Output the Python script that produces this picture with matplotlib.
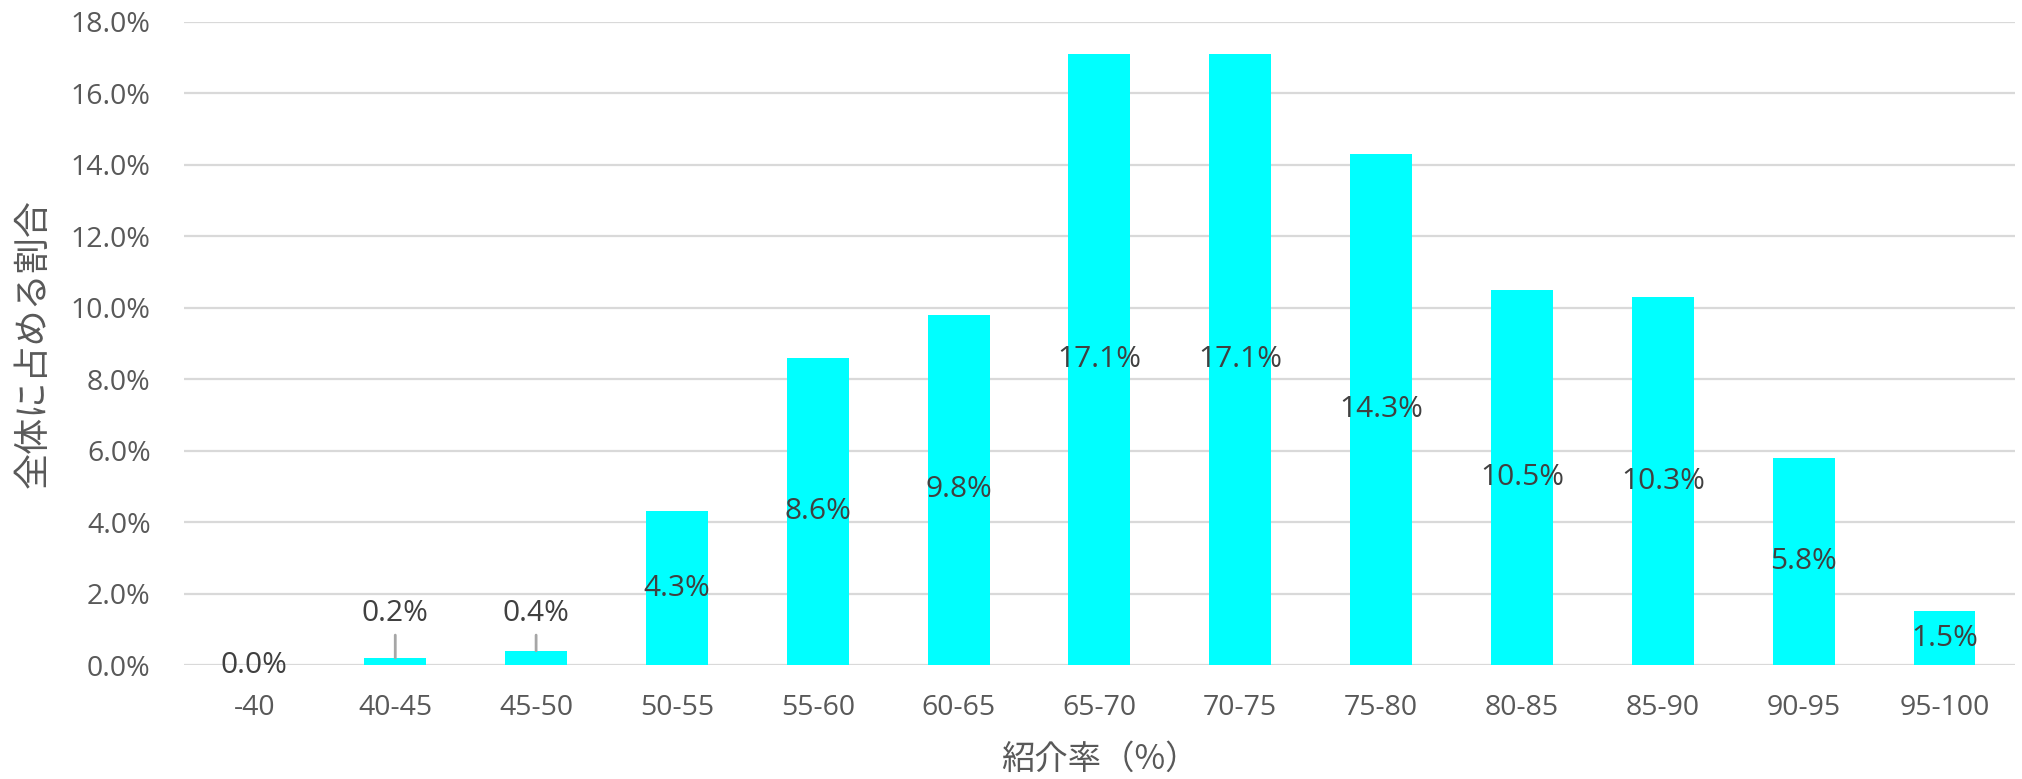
import matplotlib
matplotlib.use("Agg")
import matplotlib.pyplot as plt
from matplotlib.ticker import FuncFormatter
from matplotlib.transforms import offset_copy

plt.rcParams["font.family"] = ["Open Sans", "Noto Sans CJK JP", "DejaVu Sans"]
CJK = ["Noto Sans CJK JP", "DejaVu Sans"]

# ── Data ────────────────────────────────────────────────────────────────
categories = ["-40", "40-45", "45-50", "50-55", "55-60", "60-65", "65-70",
              "70-75", "75-80", "80-85", "85-90", "90-95", "95-100"]
shares = [0.0, 0.2, 0.4, 4.3, 8.6, 9.8, 17.1, 17.1, 14.3, 10.5, 10.3, 5.8, 1.5]
yticks = [0, 2, 4, 6, 8, 10, 12, 14, 16, 18]

BAR = "#00FFFF"
GRID = "#D9D9D9"
TICK = "#595959"
LABEL = "#404040"

fig = plt.figure(figsize=(20.22, 7.79), dpi=100)
ax = fig.add_axes([0.091, 0.1463, 0.9055, 0.8255])

x = range(len(categories))
ax.bar(x, shares, width=0.44, color=BAR, zorder=3)

# data labels: centred in bar, tiny bars get a label above with a leader line
above = offset_copy(ax.transData, fig=fig, y=37, units="points")
for i, v in enumerate(shares):
    txt = f"{v:.1f}%"
    if 0 < v < 1:
        ax.annotate(txt, xy=(i, v), xytext=(i, 0), textcoords=above,
                    ha="center", va="center", fontsize=21.5, color=LABEL,
                    arrowprops=dict(arrowstyle="-", color="#A6A6A6", lw=2,
                                    shrinkA=3, shrinkB=0), zorder=4)
    else:
        ax.text(i, v / 2, txt, ha="center", va="center", fontsize=21.5,
                color=LABEL, zorder=4)

ax.set_xlim(-0.5, len(categories) - 0.5)
ax.set_ylim(0, 18)
ax.set_yticks(yticks)
ax.yaxis.set_major_formatter(FuncFormatter(lambda v, _: f"{v:.1f}%"))
ax.set_xticks(list(x))
ax.set_xticklabels(categories)
ax.tick_params(axis="both", length=0, labelsize=20.5, labelcolor=TICK)
ax.tick_params(axis="x", pad=21)
ax.tick_params(axis="y", pad=24)

ax.grid(axis="y", color=GRID, linewidth=1.6, zorder=0)
for s in ax.spines.values():
    s.set_visible(False)

ax.set_xlabel("紹介率（%）", fontsize=24, color=TICK, labelpad=14, family=CJK)
ax.set_ylabel("全体に占める割合", fontsize=26, color=TICK, labelpad=14, family=CJK)

plt.savefig("out.png", dpi=100)
plt.close()
